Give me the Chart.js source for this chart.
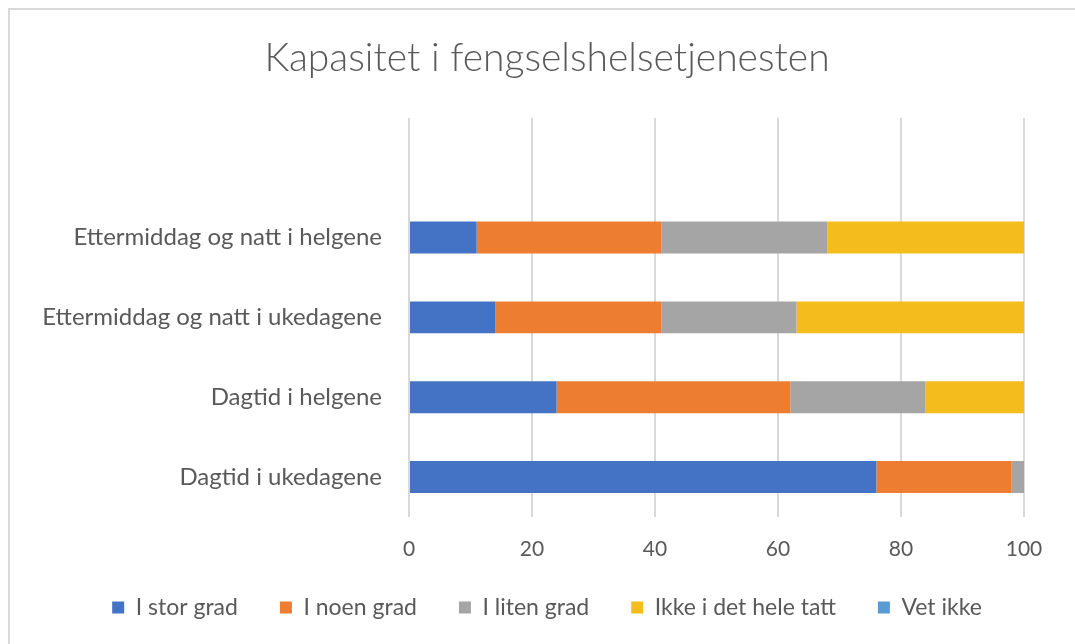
<!DOCTYPE html>
<html>
<head>
<meta charset="utf-8">
<script src="https://cdn.jsdelivr.net/npm/chart.js@4/dist/chart.umd.min.js"></script>
<style>
  html, body { margin: 0; padding: 0; background: #ffffff; overflow: hidden; }
  #frame { position: absolute; left: 8px; top: 8px; width: 1080px; height: 650px; border: 2px solid #d9d9d9; box-sizing: border-box; }
  #wrap { position: absolute; left: 0; top: 0; width: 1075px; height: 644px; }
</style>
</head>
<body>
<div id="frame"></div>
<div id="wrap"><canvas id="c" width="1075" height="644"></canvas></div>
<script>
const categories = ["", "Ettermiddag og natt i helgene", "Ettermiddag og natt i ukedagene", "Dagtid i helgene", "Dagtid i ukedagene"];
const seriesNames = ["I stor grad", "I noen grad", "I liten grad", "Ikke i det hele tatt", "Vet ikke"];
const iStorGrad = [null, 11, 14, 24, 76];
const iNoenGrad = [null, 30, 27, 38, 22];
const iLitenGrad = [null, 27, 22, 22, 2];
const ikkeIDetHeleTatt = [null, 32, 37, 16, 0];
const vetIkke = [null, 0, 0, 0, 0];
const xTicks = [0, 20, 40, 60, 80, 100];
const colors = ["#4472C4", "#ED7D31", "#A5A5A5", "#F5BC1E", "#5B9BD5"];

const seriesValues = [iStorGrad, iNoenGrad, iLitenGrad, ikkeIDetHeleTatt, vetIkke];
const FONT = "Lato, 'Open Sans', sans-serif";
const TXT = "#595959";

// Pull the legend up a little after layout (keeps wide horizontal spacing
// while leaving room for the x-axis tick labels).
const legendShift = {
  id: "legendShift",
  afterLayout(chart) {
    if (chart.legend) {
      chart.legend.top -= 13;
      chart.legend.bottom -= 13;
    }
  }
};

new Chart(document.getElementById("c"), {
  type: "bar",
  data: {
    labels: categories,
    datasets: seriesNames.map((n, i) => ({
      label: n,
      data: seriesValues[i],
      backgroundColor: colors[i],
      borderWidth: 0,
      barPercentage: 0.8,
      categoryPercentage: 0.5
    }))
  },
  plugins: [legendShift],
  options: {
    indexAxis: "y",
    responsive: false,
    animation: false,
    layout: { padding: { left: 35, right: 16, top: 0, bottom: 2 } },
    plugins: {
      title: {
        display: true,
        text: "Kapasitet i fengselshelsetjenesten",
        color: TXT,
        font: { family: FONT, size: 39, weight: "300" },
        padding: { top: 35, bottom: 36 }
      },
      legend: {
        position: "bottom",
        labels: {
          color: TXT,
          font: { family: FONT, size: 23 },
          boxWidth: 12,
          boxHeight: 12,
          padding: 42
        }
      },
      tooltip: { enabled: false }
    },
    scales: {
      x: {
        stacked: true,
        min: 0,
        max: 100,
        afterBuildTicks: (s) => { s.ticks = xTicks.map(v => ({ value: v })); },
        grid: { display: true, color: "#d9d9d9", lineWidth: 2, drawTicks: false },
        border: { display: false },
        ticks: { color: TXT, font: { family: FONT, size: 21 }, padding: 20 },
        afterFit: (s) => { s.height = 50; }
      },
      y: {
        stacked: true,
        grid: { display: false },
        border: { display: false },
        ticks: { color: TXT, font: { family: FONT, size: 24 }, padding: 19, autoSkip: false },
        afterFit: (s) => { s.width = 374; }
      },
      y2: {
        type: "category",
        position: "right",
        display: true,
        grid: { display: false },
        border: { display: false },
        ticks: { display: false },
        afterFit: (s) => { s.width = 35; }
      }
    }
  }
});
</script>
</body>
</html>
